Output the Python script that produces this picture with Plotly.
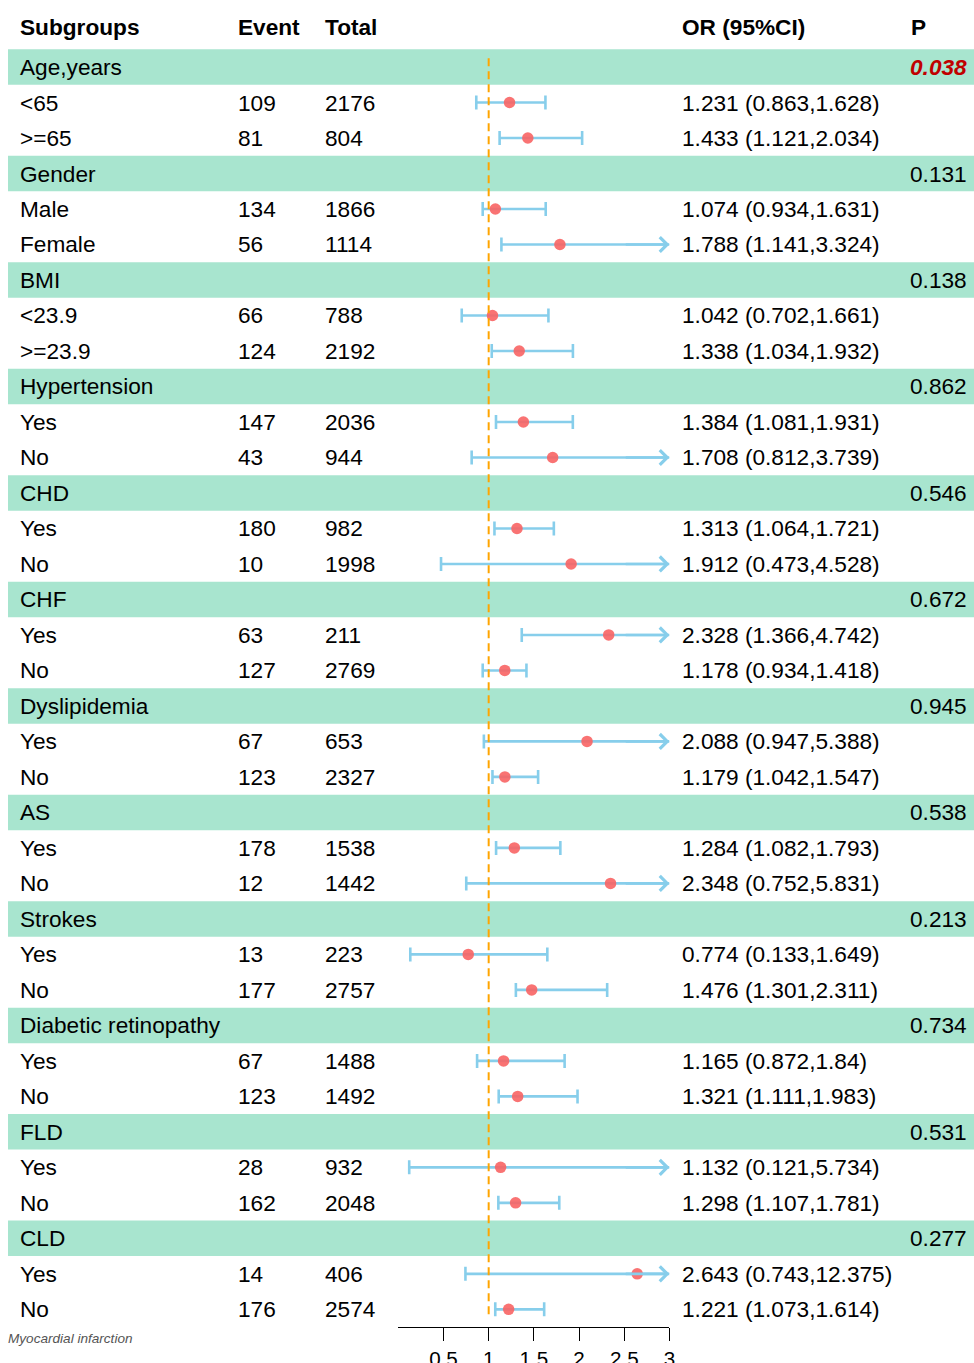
import plotly.graph_objects as go

# ---------------- data ----------------
groups = ["Age,years", "Gender", "BMI", "Hypertension", "CHD", "CHF",
          "Dyslipidemia", "AS", "Strokes", "Diabetic retinopathy", "FLD", "CLD"]
group_p = ["0.038", "0.131", "0.138", "0.862", "0.546", "0.672",
           "0.945", "0.538", "0.213", "0.734", "0.531", "0.277"]
sub_labels = [["<65", ">=65"], ["Male", "Female"], ["<23.9", ">=23.9"],
              ["Yes", "No"], ["Yes", "No"], ["Yes", "No"], ["Yes", "No"],
              ["Yes", "No"], ["Yes", "No"], ["Yes", "No"], ["Yes", "No"], ["Yes", "No"]]
events = [[109, 81], [134, 56], [66, 124], [147, 43], [180, 10], [63, 127],
          [67, 123], [178, 12], [13, 177], [67, 123], [28, 162], [14, 176]]
totals = [[2176, 804], [1866, 1114], [788, 2192], [2036, 944], [982, 1998], [211, 2769],
          [653, 2327], [1538, 1442], [223, 2757], [1488, 1492], [932, 2048], [406, 2574]]
or_vals = [[1.231, 1.433], [1.074, 1.788], [1.042, 1.338], [1.384, 1.708],
           [1.313, 1.912], [2.328, 1.178], [2.088, 1.179], [1.284, 2.348],
           [0.774, 1.476], [1.165, 1.321], [1.132, 1.298], [2.643, 1.221]]
ci_low = [[0.863, 1.121], [0.934, 1.141], [0.702, 1.034], [1.081, 0.812],
          [1.064, 0.473], [1.366, 0.934], [0.947, 1.042], [1.082, 0.752],
          [0.133, 1.301], [0.872, 1.111], [0.121, 1.107], [0.743, 1.073]]
ci_high = [[1.628, 2.034], [1.631, 3.324], [1.661, 1.932], [1.931, 3.739],
           [1.721, 4.528], [4.742, 1.418], [5.388, 1.547], [1.793, 5.831],
           [1.649, 2.311], [1.84, 1.983], [5.734, 1.781], [12.375, 1.614]]
headers = ["Subgroups", "Event", "Total", "OR (95%CI)", "P"]
x_ticks = [0.5, 1, 1.5, 2, 2.5, 3]
caption = "Myocardial infarction"
ref_value = 1
x_max = 3

# ---------------- layout constants ----------------
S = 1 / 0.9932          # horizontal snapshot-scale compensation
SY = 1 / 0.9962         # vertical snapshot-scale compensation
W, H = 981, 1370
FONT = "Liberation Sans, Arial, Helvetica, sans-serif"
FS = 22.5 * S
BAND = "#A8E5CF"
ROW0 = 67.0
ROWH = 35.49
col_x = {"sub": 18, "event": 236, "total": 323, "or": 680, "p_head": 908, "p_right": 968}

def px(x):
    return x * S / W

def prow(ypix):
    return (ypix - ROW0) / ROWH

fig = go.Figure()
annotations = []
shapes = []

row = 0
line_x, line_y = [], []
capx, capy = [], []
ptx, pty = [], []
for g in range(len(groups)):
    shapes.append(dict(type="rect", xref="paper", yref="y", x0=px(8), x1=1,
                       y0=row - 0.5, y1=row + 0.5, fillcolor=BAND, line_width=0, layer="below"))
    annotations.append(dict(x=px(col_x["sub"]), y=row, xref="paper", yref="y", text=groups[g],
                            xanchor="left", yanchor="middle", showarrow=False,
                            font=dict(size=FS, family=FONT, color="black")))
    sig = float(group_p[g]) < 0.05
    ptxt = f"<b><i>{group_p[g]}</i></b>" if sig else group_p[g]
    annotations.append(dict(x=px(col_x["p_right"]), y=row, xref="paper", yref="y", text=ptxt,
                            xanchor="right", yanchor="middle", showarrow=False,
                            font=dict(size=FS, family=FONT, color="#C00000" if sig else "black")))
    row += 1
    for k in range(2):
        for txt, cx in [(sub_labels[g][k], "sub"), (str(events[g][k]), "event"),
                        (str(totals[g][k]), "total"),
                        (f"{or_vals[g][k]} ({ci_low[g][k]},{ci_high[g][k]})", "or")]:
            annotations.append(dict(x=px(col_x[cx]), y=row, xref="paper", yref="y", text=txt,
                                    xanchor="left", yanchor="middle", showarrow=False,
                                    font=dict(size=FS, family=FONT, color="black")))
        lo, hi = ci_low[g][k], ci_high[g][k]
        hi_c = min(hi, x_max)
        line_x += [lo, hi_c, None]
        line_y += [row, row, None]
        capx.append(lo); capy.append(row)
        if hi <= x_max:
            capx.append(hi); capy.append(row)
        else:
            annotations.append(dict(x=x_max, y=row, xref="x", yref="y", ax=x_max - 0.5, ay=row,
                                    axref="x", ayref="y", showarrow=True, arrowhead=4,
                                    arrowsize=1.1, arrowwidth=2.6, arrowcolor="#87CEEB",
                                    text=" ", font=dict(size=1)))
        ptx.append(or_vals[g][k]); pty.append(row)
        row += 1

n_rows = row
shapes.append(dict(type="line", xref="x", yref="y", x0=ref_value, x1=ref_value,
                   y0=-0.25, y1=n_rows - 1 + 0.17,
                   line=dict(color="#FFA500", width=2, dash="8px,5px"), layer="above"))

fig.add_trace(go.Scatter(x=line_x, y=line_y, mode="lines",
                         line=dict(color="#87CEEB", width=2.6), hoverinfo="skip"))
fig.add_trace(go.Scatter(x=capx, y=capy, mode="markers",
                         marker=dict(symbol="line-ns", size=10,
                                     line=dict(color="#87CEEB", width=2.6)), hoverinfo="skip"))
fig.add_trace(go.Scatter(x=ptx, y=pty, mode="markers",
                         marker=dict(symbol="circle", size=11.5, color="#F86464", opacity=0.9,
                                     line=dict(width=0))))

header_y = prow(27)
for txt, cx in zip(headers, ["sub", "event", "total", "or", "p_head"]):
    annotations.append(dict(x=px(col_x[cx]), y=header_y, xref="paper", yref="y",
                            text=f"<b>{txt}</b>", xanchor="left", yanchor="middle",
                            showarrow=False, font=dict(size=FS, family=FONT, color="black")))
annotations.append(dict(x=px(6), y=prow(1338), xref="paper", yref="y",
                        text=f"<i>{caption}</i>", xanchor="left", yanchor="middle",
                        showarrow=False, font=dict(size=13.5 * S, family=FONT, color="#555555")))

# y-axis: page pixel p corresponds to row (p/SY - ROW0)/ROWH
y_top = (0 - ROW0) / ROWH
y_bot = (H / SY - ROW0) / ROWH

fig.update_layout(
    width=W, height=H, margin=dict(l=0, r=0, t=0, b=0),
    paper_bgcolor="white", plot_bgcolor="rgba(0,0,0,0)",
    showlegend=False, shapes=shapes, annotations=annotations,
    xaxis=dict(domain=[px(398), px(669)], range=[0, x_max], tickvals=x_ticks,
               ticktext=[f"{t:g}" for t in x_ticks], showgrid=False, zeroline=False,
               showline=True, linecolor="black", linewidth=1, ticks="outside",
               ticklen=13, tickcolor="black", tickwidth=1,
               anchor="free", position=1 - 1327 * SY / H,
               tickfont=dict(size=20.5 * S, family=FONT, color="black")),
    yaxis=dict(domain=[0, 1], range=[y_bot, y_top], visible=False),
)

fig.write_html("out.html", config={"displayModeBar": False},
               post_script="document.body.style.margin='0';document.body.style.overflow='hidden';")
